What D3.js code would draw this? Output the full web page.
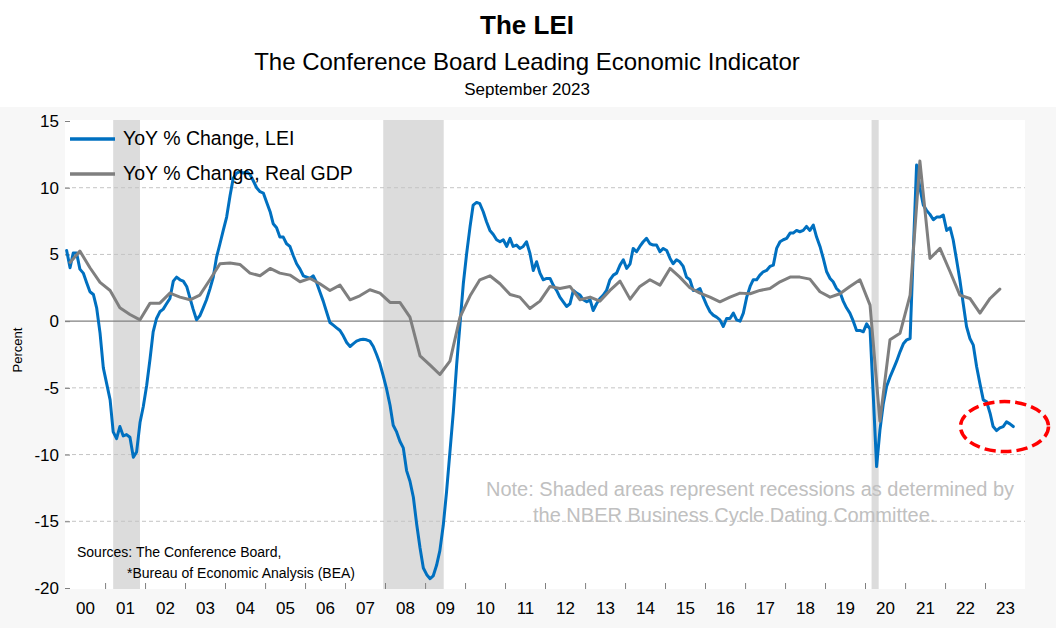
<!DOCTYPE html>
<html>
<head>
<meta charset="utf-8">
<script src="https://cdn.jsdelivr.net/npm/d3@7"></script>
<style>
  html, body { margin: 0; padding: 0; background: #ffffff; }
  svg { display: block; }
</style>
</head>
<body>
<svg id="chart" width="1056" height="628"></svg>
<script>
// ---------------- DATA ----------------
const titleText = "The LEI";
const subtitleText = "The Conference Board Leading Economic Indicator";
const dateText = "September 2023";

const yearLabels = ["00","01","02","03","04","05","06","07","08","09","10","11",
                    "12","13","14","15","16","17","18","19","20","21","22","23"];
const yTicks = [15, 10, 5, 0, -5, -10, -15, -20];
const gridValues = [10, 5, -5, -10, -15];

const seriesNames = ["YoY % Change, LEI", "YoY % Change, Real GDP"];

// Monthly YoY % change of the LEI, Jan 2000 .. Sep 2023
const leiValues = [
  5.3, 4.0, 5.1, 5.1, 3.9, 3.6, 2.9, 2.2, 2.0, 1.0, -0.9, -3.5,
  -4.7, -5.9, -8.3, -8.8, -7.9, -8.6, -8.5, -8.7, -10.2, -9.8, -7.6, -6.4,
  -4.8, -2.8, -0.8, 0.2, 0.7, 0.9, 1.3, 1.7, 3.0, 3.3, 3.1, 3.0,
  2.6, 1.7, 0.9, 0.1, 0.4, 1.0, 1.6, 2.4, 3.3, 4.8, 5.8, 6.8,
  7.8, 9.4, 10.7, 11.1, 11.2, 11.1, 11.2, 11.0, 10.5, 10.0, 9.7, 9.6,
  8.9, 8.2, 7.3, 7.0, 6.3, 6.3, 5.8, 5.6, 4.9, 4.3, 3.9, 3.4,
  3.3, 3.2, 3.4, 2.9, 2.2, 1.5, 0.7, -0.1, -0.3, -0.5, -0.7, -1.1,
  -1.6, -1.9, -1.7, -1.5, -1.4, -1.35, -1.4, -1.5, -1.9, -2.5, -3.2, -4.1,
  -5.1, -6.3, -7.8, -8.3, -9.0, -9.5, -11.2, -12.0, -13.2, -15.2, -17.0, -18.5,
  -19.0, -19.3, -19.1, -18.3, -17.2, -15.3, -12.8, -9.8, -6.8, -3.3, -0.2, 2.8,
  5.1, 7.1, 8.7, 8.9, 8.8, 8.2, 7.45, 6.8, 6.5, 6.1, 5.95, 6.1,
  5.6, 6.2, 5.6, 5.7, 5.45, 5.6, 5.95, 5.1, 3.8, 4.45, 3.6, 3.1,
  3.2, 3.2, 2.7, 2.3, 1.8, 1.45, 1.1, 1.3, 2.3, 2.1, 1.95, 1.6,
  1.45, 1.6, 0.8, 1.3, 1.7, 1.95, 2.3, 3.1, 3.45, 3.6, 4.2, 4.6,
  3.95, 4.3, 5.45, 5.2, 5.6, 5.95, 6.2, 5.8, 5.7, 5.7, 5.2, 5.45,
  5.3, 4.7, 4.3, 4.6, 4.45, 4.1, 3.3, 3.1, 2.3, 2.3, 2.45, 1.8,
  1.2, 0.7, 0.45, 0.3, 0.1, -0.4, 0.2, 0.2, 0.6, 0.1, 0.0, 0.6,
  1.8, 2.6, 3.1, 3.1, 3.45, 3.7, 3.8, 4.1, 4.2, 5.45, 5.95, 6.1,
  6.2, 6.6, 6.6, 6.8, 6.7, 6.8, 7.1, 6.8, 7.2, 6.3, 5.6, 4.7,
  3.7, 3.2, 2.95, 2.45, 2.2, 1.5, 1.0, 0.6, 0.0, -0.7, -0.7, -0.8,
  -0.2, -0.6, -5.5, -10.9, -8.2, -6.2, -4.9, -4.2, -3.6, -3.0, -2.3, -1.7,
  -1.4, -1.3, 5.0, 11.7, 10.0, 8.7, 8.3, 8.0, 7.6, 7.8, 7.8, 7.95,
  6.8, 7.0, 6.1, 4.6, 3.1, 1.3, -0.4, -1.3, -1.8, -3.4, -4.7, -5.9,
  -6.05, -6.9, -7.9, -8.2, -8.0, -7.9, -7.55, -7.7, -7.9
];

// Quarterly YoY % change of real GDP, 2000Q1 .. 2023Q2
const gdpValues = [
  4.4, 5.25, 4.0, 2.9,
  2.3, 1.0, 0.5, 0.1,
  1.35, 1.35, 2.1, 1.8,
  1.6, 1.95, 3.1, 4.3,
  4.35, 4.25, 3.6, 3.4,
  3.95, 3.6, 3.45, 2.95,
  3.2, 2.8, 2.3, 2.7,
  1.6, 1.9, 2.35, 2.1,
  1.4, 1.4, 0.3, -2.6,
  -3.3, -4.0, -3.0, 0.3,
  1.9, 3.1, 3.4, 2.8,
  2.0, 1.8, 0.95, 1.5,
  2.6, 2.45, 2.6, 1.6,
  1.8, 1.5, 2.3, 3.0,
  1.65, 2.6, 3.1, 2.7,
  3.95, 3.3, 2.5, 2.1,
  1.8, 1.45, 1.8, 2.1,
  2.05, 2.3, 2.45, 2.95,
  3.3, 3.3, 3.15, 2.2,
  1.8, 2.05, 2.6, 3.1,
  1.2, -7.5, -1.4, -0.9,
  1.95, 12.0, 4.7, 5.45,
  3.7, 1.95, 1.7, 0.6,
  1.7, 2.4
];

// NBER recessions (shaded)
const recessionStarts = ["2001-03-16", "2007-12-16", "2020-03-01"];
const recessionEnds   = ["2001-11-16", "2009-06-20", "2020-05-05"];

const noteLines = ["Note: Shaded areas represent recessions as determined by",
                   "the NBER Business Cycle Dating Committee."];
const sourceLines = ["Sources: The Conference Board,", "*Bureau of Economic Analysis (BEA)"];

// highlighted region (latest readings)
const highlightDate = "2023-06-28";
const highlightValue = -7.9;

// ---------------- DRAW ----------------
const FONT = "'Liberation Sans', Arial, sans-serif";
const svg = d3.select("#chart");
const W = 1056, H = 628;
const plot = { left: 65, right: 1025, top: 120, bottom: 589 };

const parse = d3.timeParse("%Y-%m-%d");
const x = d3.scaleTime()
  .domain([new Date(2000, 0, 1), new Date(2024, 0, 1)])
  .range([plot.left, plot.right]);
const y = d3.scaleLinear().domain([-20, 15]).range([588, 121]);

const leiData = leiValues.map((v, i) => ({ date: new Date(2000, i, 16), value: v }));
const gdpData = gdpValues.map((v, i) => ({ date: new Date(2000, 3 * i + 1, 16), value: v }));

// backgrounds
svg.append("rect").attr("x", 0).attr("y", 0).attr("width", W).attr("height", H).attr("fill", "#ffffff");
svg.append("rect").attr("x", 0).attr("y", 107).attr("width", W).attr("height", H - 107).attr("fill", "#f7f7f7");
svg.append("rect").attr("x", plot.left).attr("y", plot.top)
  .attr("width", plot.right - plot.left).attr("height", plot.bottom - plot.top).attr("fill", "#ffffff");

// titles
svg.append("text").attr("x", 527).attr("y", 34).attr("text-anchor", "middle")
  .attr("font-family", FONT).attr("font-weight", "bold").attr("font-size", 26).attr("fill", "#000")
  .text(titleText);
svg.append("text").attr("x", 527).attr("y", 70).attr("text-anchor", "middle")
  .attr("font-family", FONT).attr("font-size", 24).attr("fill", "#000")
  .text(subtitleText);
svg.append("text").attr("x", 527).attr("y", 95).attr("text-anchor", "middle")
  .attr("font-family", FONT).attr("font-size", 17).attr("fill", "#000")
  .text(dateText);

// recession shading
const g = svg.append("g");
g.selectAll("rect.rec").data(recessionStarts.map((s, i) => [parse(s), parse(recessionEnds[i])]))
  .join("rect").attr("class", "rec")
  .attr("x", d => x(d[0])).attr("width", d => x(d[1]) - x(d[0]))
  .attr("y", plot.top).attr("height", plot.bottom - plot.top)
  .attr("fill", "#dcdcdc");

// gridlines
g.selectAll("line.grid").data(gridValues).join("line").attr("class", "grid")
  .attr("x1", plot.left).attr("x2", plot.right)
  .attr("y1", d => y(d)).attr("y2", d => y(d))
  .attr("stroke", "#c4c4c4").attr("stroke-width", 1).attr("stroke-dasharray", "4,3");
g.append("line").attr("x1", plot.left).attr("x2", plot.right)
  .attr("y1", y(0)).attr("y2", y(0)).attr("stroke", "#808080").attr("stroke-width", 1.3);

// y axis (labels outside, ticks inside)
const yAxis = svg.append("g").attr("transform", `translate(${plot.left},0)`)
  .call(d3.axisLeft(y).tickValues(yTicks).tickFormat(d => String(d))
    .tickSizeInner(-5).tickSizeOuter(0).tickPadding(6));
yAxis.select(".domain").remove();
yAxis.selectAll("line").attr("stroke", "#808080");
yAxis.selectAll("text").attr("font-family", FONT).attr("font-size", 17).attr("fill", "#000");

// x axis ticks at year boundaries
const boundaryDates = yearLabels.slice(1).map((d, i) => new Date(2001 + i, 0, 1));
const xTicks = svg.append("g").attr("transform", `translate(0,${plot.bottom})`)
  .call(d3.axisBottom(x).tickValues(boundaryDates).tickFormat("")
    .tickSizeInner(-6).tickSizeOuter(0));
xTicks.select(".domain").remove();
xTicks.selectAll("line").attr("stroke", "#808080");

// x labels centred in each year
const midDates = yearLabels.map((d, i) => new Date(2000 + i, 6, 2));
const xLab = svg.append("g").attr("transform", `translate(0,588)`)
  .call(d3.axisBottom(x).tickValues(midDates).tickFormat((d, i) => yearLabels[i])
    .tickSize(0).tickPadding(14));
xLab.select(".domain").remove();
xLab.selectAll("text").attr("font-family", FONT).attr("font-size", 17).attr("fill", "#000");

// y axis title
svg.append("text").attr("transform", "translate(22,350) rotate(-90)")
  .attr("text-anchor", "middle").attr("font-family", FONT).attr("font-size", 13).attr("fill", "#000")
  .text("Percent");

// note text
svg.append("text").attr("x", 486).attr("y", 496)
  .attr("font-family", FONT).attr("font-size", 20).attr("fill", "#c0c0c0").text(noteLines[0]);
svg.append("text").attr("x", 533).attr("y", 521.5)
  .attr("font-family", FONT).attr("font-size", 20).attr("fill", "#c0c0c0").text(noteLines[1]);

// sources
svg.append("text").attr("x", 77).attr("y", 557)
  .attr("font-family", FONT).attr("font-size", 14).attr("fill", "#000").text(sourceLines[0]);
svg.append("text").attr("x", 127).attr("y", 578)
  .attr("font-family", FONT).attr("font-size", 14).attr("fill", "#000").text(sourceLines[1]);

// lines
const line = d3.line().x(d => x(d.date)).y(d => y(d.value));
svg.append("path").datum(leiData).attr("d", line)
  .attr("fill", "none").attr("stroke", "#0070c0").attr("stroke-width", 3)
  .attr("stroke-linejoin", "round").attr("stroke-linecap", "round");
svg.append("path").datum(gdpData).attr("d", line)
  .attr("fill", "none").attr("stroke", "#7f7f7f").attr("stroke-width", 3)
  .attr("stroke-linejoin", "round").attr("stroke-linecap", "round");

// highlight ellipse
svg.append("ellipse")
  .attr("cx", x(parse(highlightDate))).attr("cy", y(highlightValue))
  .attr("rx", 44).attr("ry", 25)
  .attr("fill", "none").attr("stroke", "#ff0000").attr("stroke-width", 3.5)
  .attr("stroke-dasharray", "11,5");

// legend
const legendColors = ["#0070c0", "#7f7f7f"];
const legendY = [139, 174];
const lg = svg.append("g");
seriesNames.forEach((name, i) => {
  lg.append("line").attr("x1", 70).attr("x2", 115).attr("y1", legendY[i]).attr("y2", legendY[i])
    .attr("stroke", legendColors[i]).attr("stroke-width", 3.5);
  lg.append("text").attr("x", 123).attr("y", legendY[i] + 5.5)
    .attr("font-family", FONT).attr("font-size", 19.5).attr("fill", "#000").text(name);
});
</script>
</body>
</html>
